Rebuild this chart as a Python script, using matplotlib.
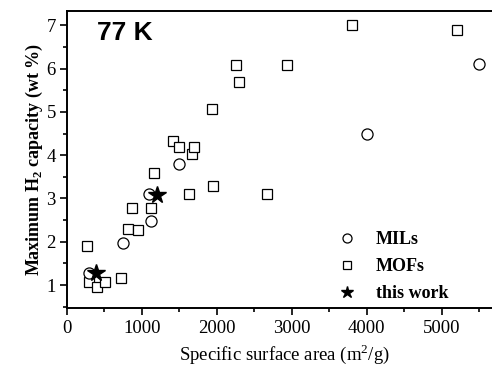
import matplotlib
matplotlib.use("Agg")
import matplotlib.pyplot as plt
from matplotlib.lines import Line2D
from matplotlib.ticker import MultipleLocator

# data -----------------------------------------------------------
mil_area = [300, 750, 1100, 1120, 1490, 4000, 5490]
mil_h2   = [1.27, 1.98, 3.10, 2.48, 3.80, 4.49, 6.10]

mof_area = [270, 300, 400, 510, 720, 810, 870, 950, 1120, 1160, 1410, 1500,
            1630, 1670, 1700, 1930, 1950, 2250, 2300, 2670, 2930, 3800, 5200]
mof_h2   = [1.90, 1.06, 0.95, 1.08, 1.17, 2.30, 2.78, 2.28, 2.78, 3.59, 4.33, 4.20,
            3.10, 4.03, 4.20, 5.06, 3.30, 6.08, 5.70, 3.10, 6.08, 7.00, 6.90]

work_area = [390, 1200]
work_h2   = [1.29, 3.08]

serif = ['Liberation Serif', 'DejaVu Serif']
plt.rcParams['mathtext.fontset'] = 'custom'
plt.rcParams['mathtext.rm'] = 'Liberation Serif'
plt.rcParams['mathtext.bf'] = 'Liberation Serif:bold'

fig = plt.figure(figsize=(4.92, 3.68), dpi=100)
ax = fig.add_axes([0.136, 0.163, 0.884, 0.807])

ax.plot(mof_area, mof_h2, ls='none', marker='s', ms=7.5, mfc='white',
        mec='black', mew=0.9)
ax.plot(mil_area, mil_h2, ls='none', marker='o', ms=8, mfc='white',
        mec='black', mew=0.9)
ax.plot(work_area, work_h2, ls='none', marker='*', ms=13, color='black')

ax.set_xlim(0, 5800)
ax.set_ylim(0.47, 7.33)
ax.xaxis.set_major_locator(MultipleLocator(1000))
ax.xaxis.set_minor_locator(MultipleLocator(500))
ax.yaxis.set_major_locator(MultipleLocator(1))
ax.yaxis.set_minor_locator(MultipleLocator(0.5))
ax.tick_params(which='both', direction='out', width=1.2, labelsize=13.5)
ax.tick_params(which='major', length=5)
ax.tick_params(which='minor', length=3)
ax.tick_params(axis='y', pad=3)
for lab in ax.get_xticklabels() + ax.get_yticklabels():
    lab.set_family(serif)
for s in ax.spines.values():
    s.set_linewidth(1.4)
ax.spines['right'].set_visible(False)

ax.set_xlabel('Specific surface area (m$^2$/g)', family=serif, fontsize=13.5,
              labelpad=4)
ax.set_ylabel(r'Maximum H$_\mathbf{2}$ capacity (wt %)', family=serif, fontsize=13,
              fontweight='bold', labelpad=1)

ax.text(0.069, 0.968, '77 K', transform=ax.transAxes, ha='left', va='top',
        family=['Liberation Sans', 'DejaVu Sans'], fontweight='bold', fontsize=19)

handles = [
    Line2D([], [], ls='none', marker='o', ms=6.5, mfc='white', mec='black', mew=0.9),
    Line2D([], [], ls='none', marker='s', ms=6, mfc='white', mec='black', mew=0.9),
    Line2D([], [], ls='none', marker='*', ms=9, color='black'),
]
leg = ax.legend(handles, ['MILs', 'MOFs', 'this work'], loc='lower left',
                bbox_to_anchor=(0.565, -0.034), frameon=False, handletextpad=0.6,
                labelspacing=0.55, prop={'family': serif, 'weight': 'bold', 'size': 13})

fig.savefig('out.png', dpi=100)
